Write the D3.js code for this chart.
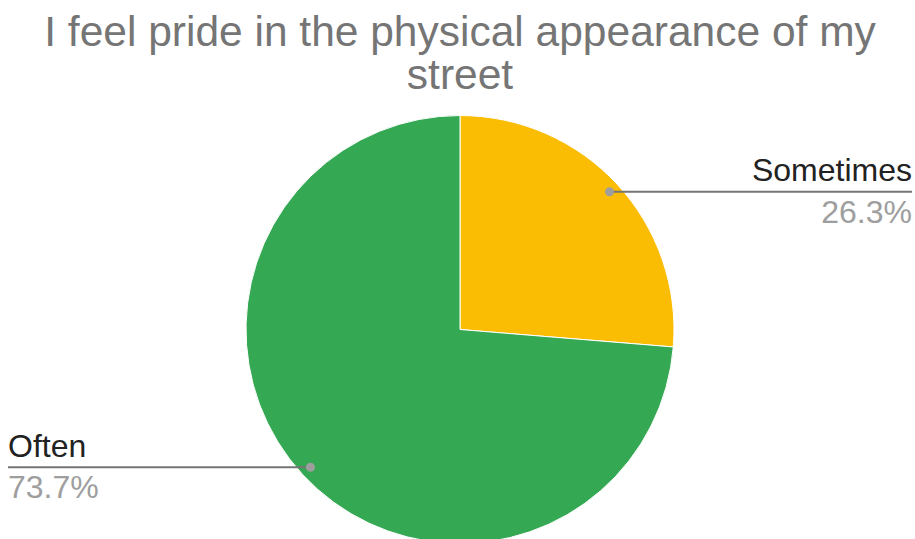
<!DOCTYPE html>
<html>
<head>
<meta charset="utf-8">
<script src="https://cdn.jsdelivr.net/npm/d3@7"></script>
<style>
  body { margin: 0; background: #fff; }
  svg { display: block; font-family: "Liberation Sans", Arial, sans-serif; }
</style>
</head>
<body>
<div id="chart-holder"></div>
<script>
// data
var categories = ["Sometimes", "Often"];
var values = [26.3, 73.7];
var colors = ["#FBBC04", "#34A853"];
var titleLines = ["I feel pride in the physical appearance of my", "street"];

var width = 915, height = 539;
var cx = 460, cy = 329.5, radius = 214;

var svg = d3.select("#chart-holder").append("svg")
  .attr("width", width)
  .attr("height", height);

// title
svg.selectAll("text.title")
  .data(titleLines)
  .enter()
  .append("text")
  .attr("class", "title")
  .attr("x", 460)
  .attr("y", function(d, i) { return 45.5 + i * 43; })
  .attr("text-anchor", "middle")
  .style("font-size", "42.5px")
  .style("fill", "#757575")
  .text(function(d) { return d; });

var pie = d3.pie().sort(null).value(function(d) { return d; });
var arcs = pie(values);

var arc = d3.arc().innerRadius(0).outerRadius(radius);
var dotArc = d3.arc().innerRadius(radius * 0.95).outerRadius(radius * 0.95);

var g = svg.append("g").attr("transform", "translate(" + cx + "," + cy + ")");

g.selectAll("path")
  .data(arcs)
  .enter()
  .append("path")
  .attr("d", arc)
  .style("fill", function(d, i) { return colors[i]; })
  .style("stroke", "#fff")
  .style("stroke-width", 1);

// label lines: right side for slices whose middle is on the right
var labelEndRight = 912, labelEndLeft = 8;
arcs.forEach(function(d, i) {
  var p = dotArc.centroid(d);
  var x = cx + p[0], y = cy + p[1];
  var right = p[0] > 0;
  var xEnd = right ? labelEndRight : labelEndLeft;

  svg.append("line")
    .attr("x1", x).attr("y1", y)
    .attr("x2", xEnd).attr("y2", y)
    .style("stroke", "#757575")
    .style("stroke-width", 2);

  svg.append("circle")
    .attr("cx", x).attr("cy", y)
    .attr("r", 4.5)
    .style("fill", "#9E9E9E");

  svg.append("text")
    .attr("x", xEnd)
    .attr("y", y - 10.5)
    .attr("text-anchor", right ? "end" : "start")
    .style("font-size", "32px")
    .style("fill", "#222")
    .text(categories[i]);

  svg.append("text")
    .attr("x", xEnd)
    .attr("y", y + 31)
    .attr("text-anchor", right ? "end" : "start")
    .style("font-size", "32px")
    .style("fill", "#9E9E9E")
    .text(values[i].toFixed(1) + "%");
});
</script>
</body>
</html>
